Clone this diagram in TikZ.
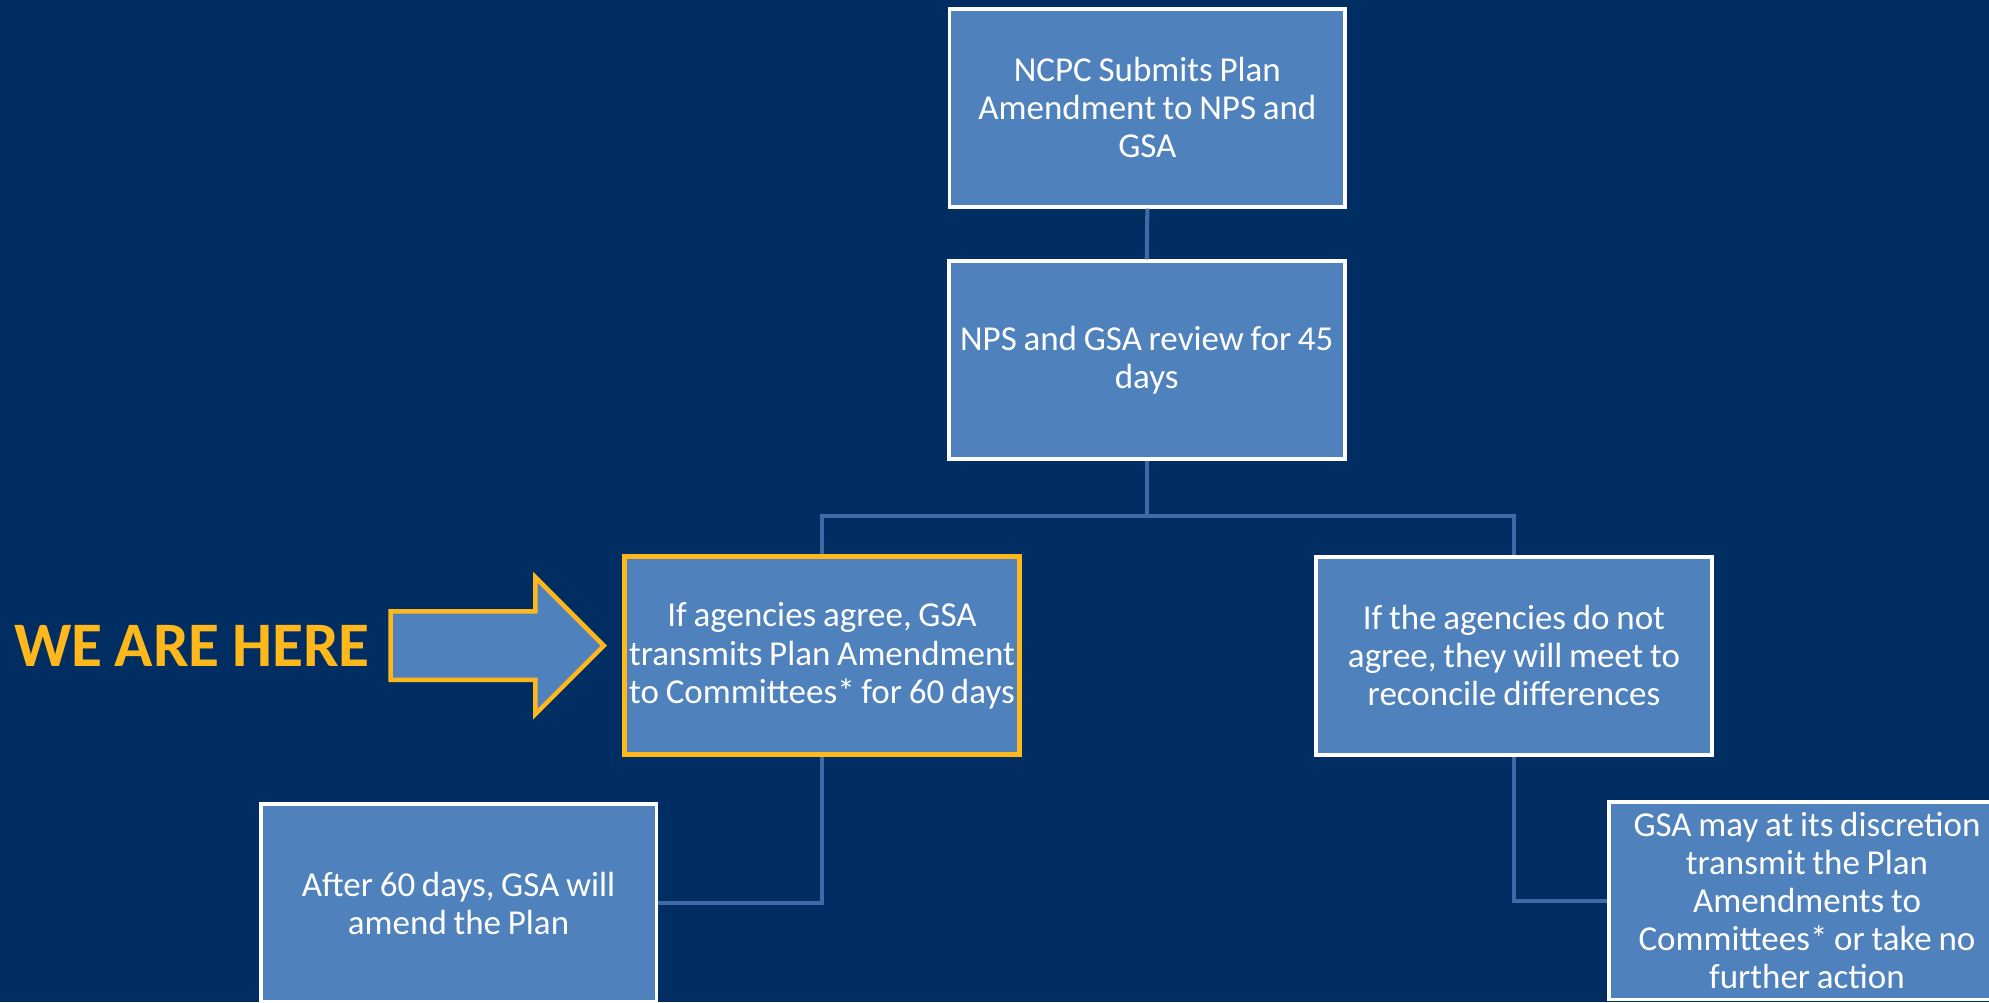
\documentclass[tikz,border=0pt]{standalone}
\usepackage{fontspec}
\setmainfont{Carlito}[WordSpace=0.85]
\definecolor{bgnavy}{RGB}{0,45,98}
\definecolor{boxblue}{RGB}{79,129,189}
\definecolor{linkblue}{RGB}{62,106,165}
\definecolor{hereyellow}{RGB}{255,184,28}
\tikzset{
  stepbox/.style={draw=white, line width=3pt, fill=boxblue, text=white,
    minimum width=312pt, minimum height=156pt, inner sep=0pt,
    align=center, font=\fontsize{27.6}{30}\selectfont},
  herebox/.style={stepbox, draw=hereyellow, line width=4pt},
  link/.style={draw=linkblue, line width=3.2pt}
}
\begin{document}
\begin{tikzpicture}[x=1pt,y=-1pt]
\fill[bgnavy] (0,0) rectangle (1568,790);
\useasboundingbox (0,0) rectangle (1568,790);
\clip (0,0) rectangle (1568,790);
\coordinate (j) at (904,407);
% boxes
\node[stepbox] (b1) at (904.5,85) {NCPC Submits Plan\\Amendment to NPS and\\GSA};
\node[stepbox] (b2) at (904,284) {NPS and GSA review for 45\\days};
\node[herebox] (b3) at (648,517) {If agencies agree, GSA\\transmits Plan Amendment\\to Committees* for 60 days};
\node[stepbox] (b4) at (1193.5,517) {If the agencies do not\\agree, they will meet to\\reconcile differences};
\node[stepbox] (b5) at (361.5,712) {After 60 days, GSA will\\amend the Plan};
\node[stepbox] (b6) at (1424.5,710) {GSA may at its discretion\\transmit the Plan\\Amendments to\\Committees* or take no\\further action};
% connectors
\draw[link] (b1.south) -- (b2.north);
\draw[link] (b2.south) -- (j);
\draw[link] (b3.north) -- (b3.north |- j) -- (b4.north |- j) -- (b4.north);
\draw[link] (b3.south) |- (b5.east);
\draw[link] (b4.south) |- (b6.west);
% arrow
\coordinate (tip) at (476,509);
\draw[draw=hereyellow, fill=boxblue, line width=3.5pt, line join=miter]
  (308,482) -- (422,482) -- (422,455) -- (tip) -- (422,563) -- (422,536) -- (308,536) -- cycle;
\node[anchor=west, inner sep=0pt, text=hereyellow, font=\fontsize{50}{50}\selectfont\bfseries] (here) at (11,509) {WE ARE HERE};
\end{tikzpicture}
\end{document}
